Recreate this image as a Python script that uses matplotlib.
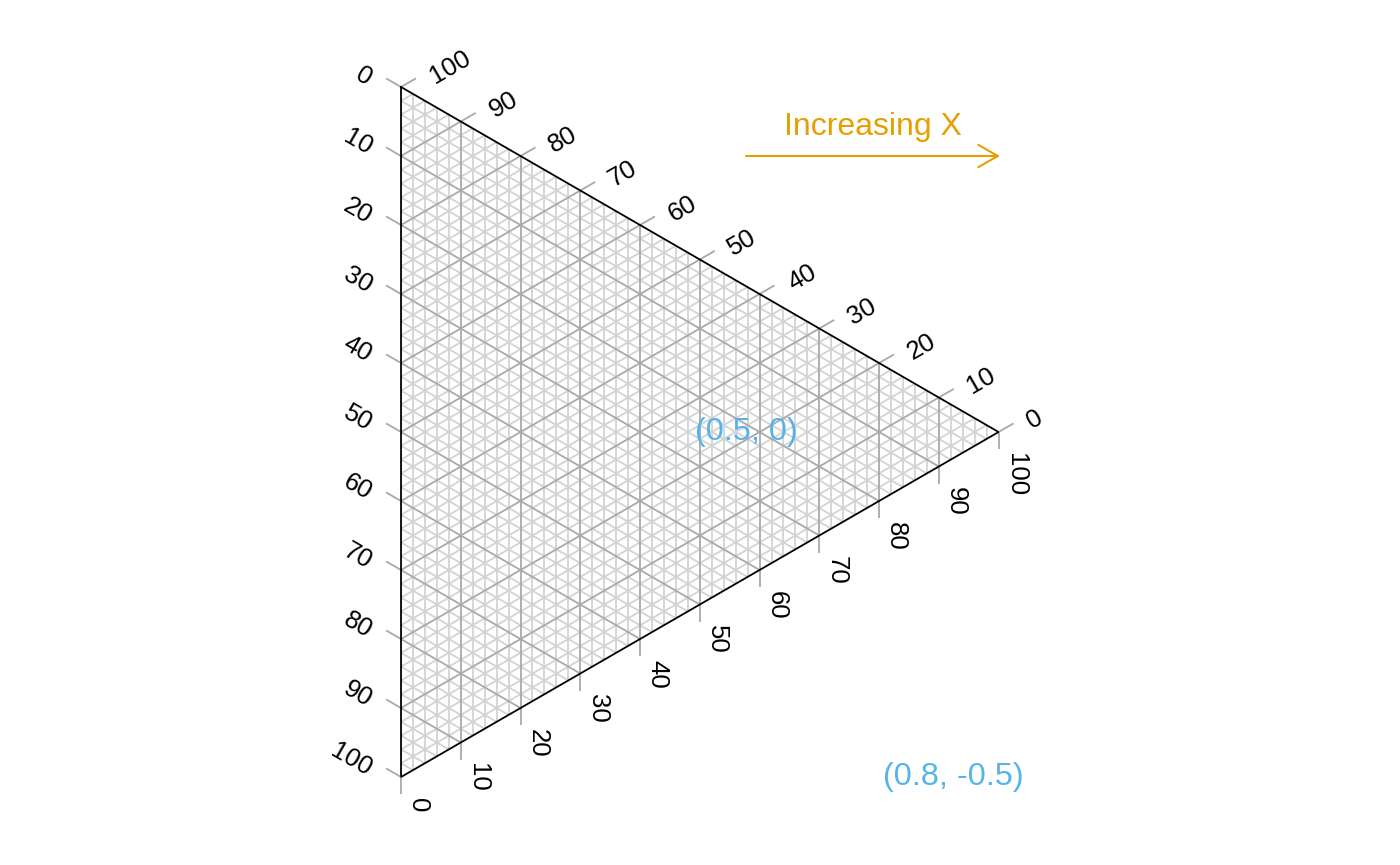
import numpy as np
import matplotlib
matplotlib.use('Agg')
import matplotlib.pyplot as plt
from matplotlib.collections import LineCollection

plt.rcParams['font.family'] = ['Liberation Sans', 'DejaVu Sans']

# Axis tick values (percent) and grid values
tick_values = [0, 10, 20, 30, 40, 50, 60, 70, 80, 90, 100]
major_grid = [10, 20, 30, 40, 50, 60, 70, 80, 90]
minor_grid = [v for v in range(2, 100, 2) if v % 10 != 0]

# Annotations placed in plot coordinates
point_labels = ['(0.5, 0)', '(0.8, -0.5)']
point_x = [0.5, 0.8]
point_y = [0.0, -0.5]
arrow_label = 'Increasing X'
arrow_x = [0.5, 0.868]
arrow_y = 0.4

orange = '#E69F00'
blue = '#56B4E9'

# Triangle pointing right: top, bottom, right vertices
h = np.sqrt(3) / 2
T = np.array([0.0, 0.5])
B = np.array([0.0, -0.5])
R = np.array([h, 0.0])


def left_pt(v):
    return T + v / 100 * (B - T)


def top_pt(v):
    return R + v / 100 * (T - R)


def bottom_pt(v):
    return B + v / 100 * (R - B)


def grid_segments(values):
    segs = []
    for v in values:
        segs.append([bottom_pt(v), top_pt(100 - v)])
        segs.append([left_pt(v), bottom_pt(100 - v)])
        segs.append([left_pt(v), top_pt(100 - v)])
    return segs


fig = plt.figure(figsize=(14, 8.65), dpi=100)
ax = fig.add_axes([0, 0, 1, 1])
ax.set_xlim(-0.5812, 1.4478)
ax.set_ylim(-0.6275, 0.6261)
ax.axis('off')

# grid
ax.add_collection(LineCollection(grid_segments(minor_grid), colors='#D3D3D3', linewidths=1.3, zorder=1))
ax.add_collection(LineCollection(grid_segments(major_grid), colors='#A9A9A9', linewidths=1.3, zorder=2))

# triangle outline
tri = np.array([T, R, B, T])
ax.plot(tri[:, 0], tri[:, 1], color='black', lw=1.3, zorder=3, solid_joinstyle='miter')

# ticks and labels
tick_len = 0.025
fs = 18.5
left_dir = np.array([-h, 0.5])
top_dir = np.array([h, 0.5])
bottom_dir = np.array([0.0, -1.0])
left_off = np.array([-0.045, 0.010])
top_off = np.array([0.0435, 0.0135])
bottom_off = np.array([0.025, -0.030])
tick_segs = []
for v in tick_values:
    for p, d in ((left_pt(v), left_dir), (top_pt(v), top_dir), (bottom_pt(v), bottom_dir)):
        tick_segs.append([p, p + tick_len * d])
    p = left_pt(v) + left_off
    ax.text(p[0], p[1], str(v), rotation=-30, rotation_mode='anchor',
            ha='right', va='center', fontsize=fs)
    p = top_pt(v) + top_off
    ax.text(p[0], p[1], str(v), rotation=30, rotation_mode='anchor',
            ha='left', va='center', fontsize=fs)
    p = bottom_pt(v) + bottom_off
    ax.text(p[0], p[1], str(v), rotation=-90, rotation_mode='anchor',
            ha='left', va='center', fontsize=fs)
ax.add_collection(LineCollection(tick_segs, colors='#A9A9A9', linewidths=1.3, zorder=2))

# annotations
for lab, x, y in zip(point_labels, point_x, point_y):
    ax.text(x, y, lab, color=blue, fontsize=23.3, ha='center', va='center', zorder=5)

ax.annotate('', xy=(arrow_x[1], arrow_y), xytext=(arrow_x[0], arrow_y),
            arrowprops=dict(arrowstyle='->,head_length=0.7,head_width=0.4',
                            color=orange, lw=1.5, shrinkA=0, shrinkB=0,
                            mutation_scale=20))
ax.text(np.mean(arrow_x), arrow_y + 0.042, arrow_label, color=orange,
        fontsize=23, ha='center', va='center')

fig.savefig('out.png', dpi=100)
